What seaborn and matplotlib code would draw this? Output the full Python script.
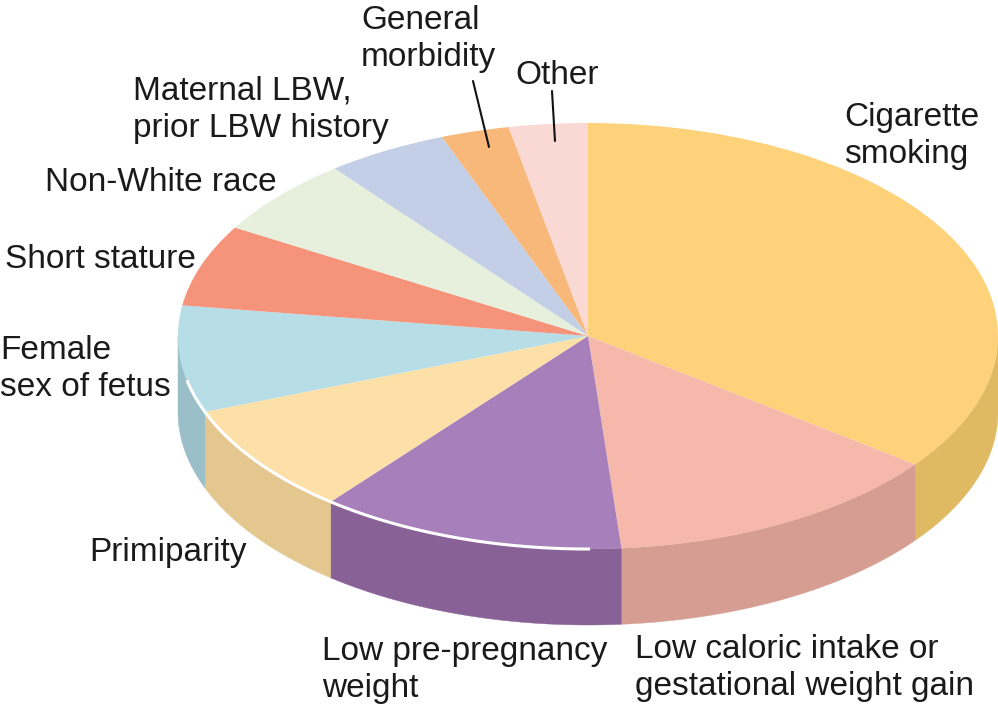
import numpy as np
import seaborn as sns
import matplotlib.pyplot as plt

W, H = 998, 705

# Share of each factor, clockwise from 12 o'clock
categories = ['Cigarette smoking', 'Low caloric intake or gestational weight gain',
              'Low pre-pregnancy weight', 'Primiparity', 'Female sex of fetus',
              'Short stature', 'Non-White race', 'Maternal LBW, prior LBW history',
              'General morbidity', 'Other']
shares = [35.3, 13.4, 12.1, 8.4, 8.1, 6.2, 5.9, 4.8, 2.7, 3.1]
top_colors = ['#FDD27A', '#F6B8AB', '#A77FBA', '#FDDFA8', '#B7DDE6',
              '#F6937B', '#E7F0DC', '#C3CFE7', '#F7B87A', '#FAD8D4']
side_colors = ['#DFBA63', '#D69E92', '#886296', '#E3C78F', '#9ABFC9',
               '#D6806A', '#CBD4C0', '#AAB5CB', '#D8A06A', '#DBBDB9']

label_text = ['Cigarette\nsmoking', 'Low caloric intake or\ngestational weight gain',
              'Low pre-pregnancy\nweight', 'Primiparity', 'Female\nsex of fetus',
              'Short stature', 'Non-White race', 'Maternal LBW,\nprior LBW history',
              'General\nmorbidity', 'Other']
label_x = [844, 635, 322, 89, 0, 5, 45, 133, 361, 515]
label_y = [136, 668, 670, 552, 369, 260, 183, 110, 39, 75]

# Ellipse of the pie top in picture pixels
cx, cy, rx, ry = 588, 336, 410, 213
depth = 76 / ry


def to_x(px):
    return (px - cx) / rx


def to_y(py):
    return (cy - py) / ry


def ring(clock_deg):
    # clockwise angle from the top -> point on the unit circle
    a = np.radians(clock_deg)
    return np.sin(a), np.cos(a)


sns.set_theme(style='white')
plt.rcParams['font.family'] = ['Liberation Sans', 'DejaVu Sans']

fig = plt.figure(figsize=(W / 100, H / 100), dpi=100)
ax = fig.add_axes([0, 0, 1, 1])

# Side wall, only the front half of the rim shows
edges = np.concatenate([[0], np.cumsum(shares)]) / np.sum(shares) * 360
for i in range(len(shares)):
    lo, hi = max(edges[i], 90), min(edges[i + 1], 270)
    if lo >= hi:
        continue
    x, y = ring(np.linspace(lo, hi, 80))
    ax.fill(np.r_[x, x[::-1]], np.r_[y, y[::-1] - depth],
            color=side_colors[i], lw=0.3, zorder=1)

# Pie top
wedges, _ = ax.pie(shares, colors=top_colors, startangle=90, counterclock=False,
                   radius=1, wedgeprops={'linewidth': 0.3, 'edgecolor': 'none'})
for wedge in wedges:
    wedge.set_zorder(2)
ax.set_aspect('auto')
ax.set_xlim(to_x(0), to_x(W))
ax.set_ylim(to_y(H), to_y(0))
ax.axis('off')

# White rim highlight
x, y = ring(np.linspace(179.7, 258, 120))
ax.plot(x, y, color='white', lw=2.2, solid_capstyle='butt', zorder=3)

# Leader lines
ax.plot([to_x(473), to_x(489)], [to_y(81), to_y(147)], color='#111111', lw=1.5, zorder=4)
ax.plot([to_x(552), to_x(555)], [to_y(91), to_y(141)], color='#111111', lw=1.5, zorder=4)

for text, px, py in zip(label_text, label_x, label_y):
    ax.text(to_x(px), to_y(py), text, fontsize=24, color='#1A1A1A',
            ha='left', va='center', linespacing=1.27, zorder=5)

fig.savefig('out.png', dpi=100)
